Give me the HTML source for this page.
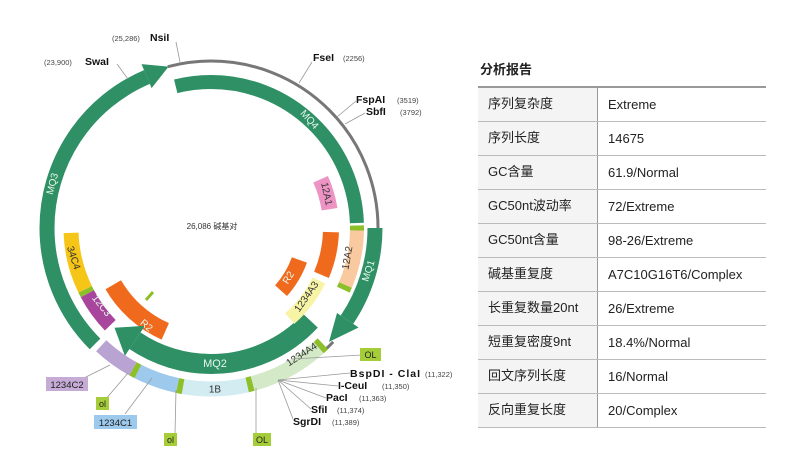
<!DOCTYPE html>
<html><head><meta charset="utf-8"><style>
body{margin:0;background:#fff;width:789px;height:464px;overflow:hidden;position:relative;font-family:"Liberation Sans","Noto Sans CJK SC",sans-serif}
svg{position:absolute;left:0;top:0}
.t{position:absolute;left:478px;top:86px;border-collapse:collapse;width:288px}
.t td{height:33px;border-bottom:1px solid #bbb;font-size:13px;line-height:14px;color:#222;padding:0 0 0 10px;vertical-align:middle}
.t td span{display:inline-block;line-height:14px;height:14px;overflow:visible;position:relative;top:-1px}
.t tr:first-child td{border-top:2px solid #999}
.t td:first-child{background:#f4f4f4;width:109px;border-right:1px solid #999}
h3{position:absolute;left:480px;top:62px;margin:0;font-size:13px;line-height:16px;font-weight:bold;color:#222}
</style></head><body>
<svg width="789" height="464" font-family="Liberation Sans, Noto Sans CJK SC, sans-serif">
<g fill="none" transform="rotate(-90 211 228)">
<circle cx="211" cy="228" r="167" pathLength="360" stroke="#777" stroke-width="3" stroke-dasharray="105 255" stroke-dashoffset="-345"/>
<circle cx="211" cy="228" r="167" pathLength="360" stroke="#777" stroke-width="3" stroke-dasharray="4 356" stroke-dashoffset="-133"/>
<circle cx="211" cy="228" r="164" pathLength="360" stroke="#2e9064" stroke-width="15" stroke-dasharray="112 248" stroke-dashoffset="-225"/>
<circle cx="211" cy="228" r="164" pathLength="360" stroke="#2e9064" stroke-width="15" stroke-dasharray="34 326" stroke-dashoffset="-90"/>
<circle cx="211" cy="228" r="146" pathLength="360" stroke="#2e9064" stroke-width="14" stroke-dasharray="102 258" stroke-dashoffset="-346"/>
<circle cx="211" cy="228" r="136" pathLength="360" stroke="#2e9064" stroke-width="20" stroke-dasharray="81 279" stroke-dashoffset="-133"/>
<circle cx="211" cy="228" r="161" pathLength="360" stroke="#b9a3d2" stroke-width="15" stroke-dasharray="14 346" stroke-dashoffset="-209"/>
<circle cx="211" cy="228" r="161" pathLength="360" stroke="#9dc9ec" stroke-width="15" stroke-dasharray="15 345" stroke-dashoffset="-192"/>
<circle cx="211" cy="228" r="161" pathLength="360" stroke="#d2ecf1" stroke-width="15" stroke-dasharray="23 337" stroke-dashoffset="-167"/>
<circle cx="211" cy="228" r="161" pathLength="360" stroke="#d3e9c8" stroke-width="15" stroke-dasharray="27 333" stroke-dashoffset="-138"/>
<g stroke="#8cbf2a" stroke-width="15">
<circle cx="211" cy="228" r="161" pathLength="360" stroke-dasharray="2 358" stroke-dashoffset="-207"/>
<circle cx="211" cy="228" r="161" pathLength="360" stroke-dasharray="2 358" stroke-dashoffset="-190"/>
<circle cx="211" cy="228" r="161" pathLength="360" stroke-dasharray="2 358" stroke-dashoffset="-165"/>
<circle cx="211" cy="228" r="161" pathLength="360" stroke-dasharray="2 358" stroke-dashoffset="-136"/>
</g>
<circle cx="211" cy="228" r="120" pathLength="360" stroke="#ee94c4" stroke-width="16" stroke-dasharray="15 345" stroke-dashoffset="-66"/>
<circle cx="211" cy="228" r="120" pathLength="360" stroke="#f06a1e" stroke-width="16" stroke-dasharray="21 339" stroke-dashoffset="-92"/>
<circle cx="211" cy="228" r="120" pathLength="360" stroke="#f8f4a6" stroke-width="14" stroke-dasharray="23 337" stroke-dashoffset="-116"/>
<circle cx="211" cy="228" r="146" pathLength="360" stroke="#f9c9a0" stroke-width="14" stroke-dasharray="22 338" stroke-dashoffset="-91"/>
<circle cx="211" cy="228" r="146" pathLength="360" stroke="#8cbf2a" stroke-width="14" stroke-dasharray="2 358" stroke-dashoffset="-89"/>
<circle cx="211" cy="228" r="146" pathLength="360" stroke="#8cbf2a" stroke-width="14" stroke-dasharray="2 358" stroke-dashoffset="-113"/>
<circle cx="211" cy="228" r="94" pathLength="360" stroke="#f06a1e" stroke-width="16" stroke-dasharray="22 338" stroke-dashoffset="-110"/>
<circle cx="211" cy="228" r="140" pathLength="360" stroke="#f5c518" stroke-width="15" stroke-dasharray="24 336" stroke-dashoffset="-244"/>
<circle cx="211" cy="228" r="140" pathLength="360" stroke="#8cbf2a" stroke-width="15" stroke-dasharray="2 358" stroke-dashoffset="-242"/>
<circle cx="211" cy="228" r="140" pathLength="360" stroke="#a8459c" stroke-width="15" stroke-dasharray="16 344" stroke-dashoffset="-226"/>
<circle cx="211" cy="228" r="113" pathLength="360" stroke="#f06a1e" stroke-width="18" stroke-dasharray="36 324" stroke-dashoffset="-204"/>
</g>
<polygon points="151.6,88.1 141.5,64.1 168.6,66.6" fill="#2e9064"/>
<polygon points="337,313 358.6,327.5 329,341.9" fill="#2e9064"/>
<polygon points="145,325.8 124.9,355.7 114.5,327.8" fill="#2e9064"/>
<line x1="146" y1="300" x2="153" y2="292" stroke="#8cbf2a" stroke-width="3"/>
<g font-size="10" fill="#e8f8ee" dominant-baseline="central" text-anchor="middle">
<text x="309" y="120" transform="rotate(48 309 120)">MQ4</text>
<text x="53" y="184" transform="rotate(-75 53 184)">MQ3</text>
<text x="369" y="271" transform="rotate(-72 369 271)">MQ1</text>
<text x="215" y="364" font-size="11">MQ2</text>
<text x="101" y="306" transform="rotate(52 101 306)">12C3</text>
<text x="146" y="326" transform="rotate(40 146 326)">R2</text>
<text x="289" y="278" transform="rotate(-58 289 278)">R2</text>
</g>
<g font-size="10" fill="#333" dominant-baseline="central" text-anchor="middle">
<text x="326" y="194" transform="rotate(78 326 194)">12A1</text>
<text x="348" y="258" transform="rotate(-80 348 258)">12A2</text>
<text x="307" y="297" transform="rotate(-55 307 297)">1234A3</text>
<text x="73" y="258" transform="rotate(72 73 258)">34C4</text>
<text x="302" y="355" transform="rotate(-33 302 355)">1234A4</text>
<text x="215" y="390">1B</text>
</g>
<text x="212" y="229" text-anchor="middle" font-size="8" fill="#333">26,086 碱基对</text>
<g stroke="#999" stroke-width="0.8">
<line x1="176" y1="42" x2="180" y2="62"/>
<line x1="117" y1="64" x2="128" y2="79"/>
<line x1="312" y1="62" x2="299" y2="83"/>
<line x1="356" y1="101" x2="337" y2="117"/>
<line x1="365" y1="113" x2="345" y2="124"/>
<line x1="292" y1="359" x2="362" y2="355"/>
<line x1="278" y1="380" x2="350" y2="373"/>
<line x1="278" y1="380" x2="338" y2="386"/>
<line x1="278" y1="380" x2="326" y2="398"/>
<line x1="278" y1="380" x2="311" y2="409"/>
<line x1="278" y1="380" x2="293" y2="419"/>
<line x1="110" y1="365" x2="80" y2="380"/>
<line x1="128" y1="373" x2="105" y2="400"/>
<line x1="152" y1="378" x2="125" y2="414"/>
<line x1="176" y1="390" x2="175" y2="434"/>
<line x1="256" y1="388" x2="256" y2="434"/>
</g>
<g font-size="7.5" fill="#444">
<text x="112" y="41">(25,286)</text>
<text x="44" y="65">(23,900)</text>
<text x="343" y="61">(2256)</text>
<text x="397" y="103">(3519)</text>
<text x="400" y="115">(3792)</text>
<text x="425" y="377">(11,322)</text>
<text x="382" y="389">(11,350)</text>
<text x="359" y="401">(11,363)</text>
<text x="337" y="413">(11,374)</text>
<text x="332" y="425">(11,389)</text>
</g>
<g font-size="10.5" font-weight="bold" fill="#111">
<text x="150" y="41">NsiI</text>
<text x="85" y="65">SwaI</text>
<text x="313" y="61">FseI</text>
<text x="356" y="103">FspAI</text>
<text x="366" y="115">SbfI</text>
<text x="350" y="377" textLength="70">BspDI - ClaI</text>
<text x="338" y="389">I-CeuI</text>
<text x="326" y="401">PacI</text>
<text x="311" y="413">SfiI</text>
<text x="293" y="425">SgrDI</text>
</g>
<rect x="360" y="348" width="21" height="13" fill="#a5cd39"/><text x="370.5" y="358" font-size="9" text-anchor="middle" fill="#222">OL</text>
<rect x="253" y="433" width="18" height="13" fill="#a5cd39"/><text x="262" y="443" font-size="9" text-anchor="middle" fill="#222">OL</text>
<rect x="96" y="397" width="13" height="13" fill="#a5cd39"/><text x="102.5" y="407" font-size="9" text-anchor="middle" fill="#222">ol</text>
<rect x="164" y="433" width="13" height="13" fill="#a5cd39"/><text x="170.5" y="443" font-size="9" text-anchor="middle" fill="#222">ol</text>
<rect x="46" y="377" width="42" height="14" fill="#c5abd6"/><text x="67" y="388" font-size="9.5" text-anchor="middle" fill="#222">1234C2</text>
<rect x="94" y="415" width="43" height="14" fill="#9dc9ec"/><text x="115.5" y="426" font-size="9.5" text-anchor="middle" fill="#222">1234C1</text>
</svg>
<h3>分析报告</h3>
<table class="t">
<tr><td><span>序列复杂度</span></td><td>Extreme</td></tr>
<tr><td><span>序列长度</span></td><td>14675</td></tr>
<tr><td><span>GC含量</span></td><td>61.9/Normal</td></tr>
<tr><td><span>GC50nt波动率</span></td><td>72/Extreme</td></tr>
<tr><td><span>GC50nt含量</span></td><td>98-26/Extreme</td></tr>
<tr><td><span>碱基重复度</span></td><td>A7C10G16T6/Complex</td></tr>
<tr><td><span>长重复数量20nt</span></td><td>26/Extreme</td></tr>
<tr><td><span>短重复密度9nt</span></td><td>18.4%/Normal</td></tr>
<tr><td><span>回文序列长度</span></td><td>16/Normal</td></tr>
<tr><td><span>反向重复长度</span></td><td>20/Complex</td></tr>
</table>
</body></html>
